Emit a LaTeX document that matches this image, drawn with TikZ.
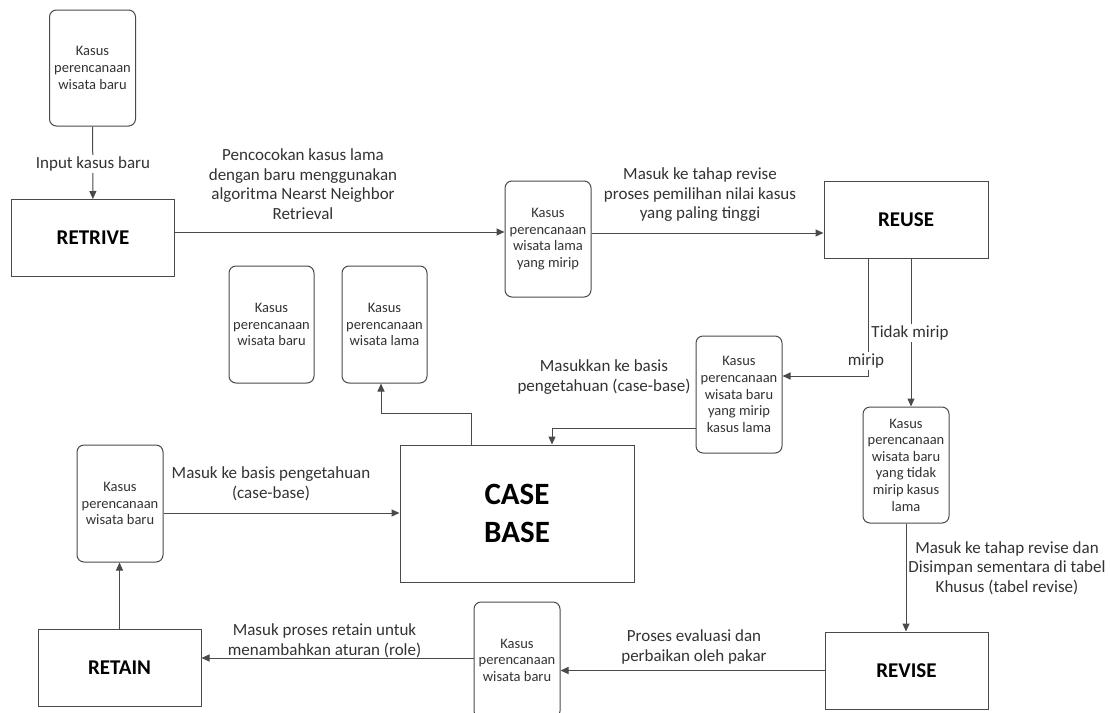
\documentclass[tikz,border=0pt]{standalone}
\usepackage{fontspec}
\setmainfont{Carlito}
\usetikzlibrary{arrows.meta}
\definecolor{ln}{HTML}{4A4A4A}
\definecolor{tx}{HTML}{333333}
\tikzset{
  x=1pt, y=-1pt,
  casebox/.style={draw=ln, line width=1pt, rounded corners=7pt,
    minimum width=86pt, minimum height=116pt, align=center, inner sep=1pt,
    text=tx, font=\fontsize{14.5}{16.6}\selectfont},
  stagebox/.style={draw=ln, line width=1pt, minimum width=163pt,
    minimum height=77pt, text=black, font=\fontsize{21}{24}\selectfont\bfseries},
  flow/.style={draw=ln, line width=1pt, -{Triangle[length=8pt,width=7pt]}},
  note/.style={align=center, text=tx, font=\fontsize{17}{19.5}\selectfont, inner sep=1pt},
  cut/.style={note, fill=white, inner sep=2pt},
}
\begin{document}
\begin{tikzpicture}
\useasboundingbox (0,0) rectangle (1110,712);
\fill[white] (0,0) rectangle (1110,712);
\clip (0,0) rectangle (1110,712);

% stages of the cycle
\node[stagebox] (retrive) at (93,238) {RETRIVE};
\node[stagebox, minimum width=164pt] (reuse) at (906,219.5) {REUSE};
\node[stagebox] (revise) at (906.5,670.5) {REVISE};
\node[stagebox] (retain) at (119.5,668) {RETAIN};
\node[draw=ln, line width=1pt, minimum width=234pt, minimum height=137pt,
  align=center, font=\fontsize{31}{38}\selectfont\bfseries] (cb) at (517,513.5) {CASE\\BASE};

% case records
\node[casebox] (new) at (92.5,68) {Kasus\\perencanaan\\wisata baru};
\node[casebox] (sim) at (548,239) {Kasus\\perencanaan\\wisata lama\\yang mirip};
\node[casebox, minimum width=85pt, minimum height=117pt] (cbnew) at (271.5,324.5) {Kasus\\perencanaan\\wisata baru};
\node[casebox, minimum width=85pt, minimum height=117pt] (cbold) at (384.5,324.5) {Kasus\\perencanaan\\wisata lama};
\node[casebox, minimum height=117pt] (same) at (739,394.5) {Kasus\\perencanaan\\wisata baru\\yang mirip\\kasus lama};
\node[casebox] (diff) at (906,465) {Kasus\\perencanaan\\wisata baru\\yang tidak\\mirip kasus\\lama};
\node[casebox, minimum height=117pt] (kept) at (120,503.5) {Kasus\\perencanaan\\wisata baru};
\node[casebox] (fixed) at (517,660) {Kasus\\perencanaan\\wisata baru};

% flows
\draw[flow] (new) -- (retrive);
\node[cut] (linput) at (93,164) {Input kasus baru};

\draw[flow] ([yshift=6pt]retrive.east) -- ([yshift=6pt]retrive.east -| sim.west);
\node[note] (lmatch) at (303,184) {Pencocokan kasus lama\\dengan baru menggunakan\\algoritma Nearst Neighbor\\Retrieval};

\draw[flow] ([yshift=6pt]sim.east) -- ([yshift=6pt]sim.east -| reuse.west);
\node[note] (lpick) at (700,195) {Masuk ke tahap revise\\proses pemilihan nilai kasus\\yang paling tinggi};

\draw[flow] ([xshift=-38pt]reuse.south) |- ([yshift=18.5pt]same.east);
\node[cut] (lsim) at (866,361) {mirip};

\draw[flow] ([xshift=5pt]reuse.south) -- ([xshift=5pt]diff.north);
\node[cut] (ldiff) at (910,333) {Tidak mirip};

\draw[flow] ([yshift=-33.5pt]same.west) -| ([xshift=35pt]cb.north);
\node[note] (lstore) at (604,377) {Masukkan ke basis\\pengetahuan (case-base)};

\draw[flow] ([xshift=-46pt]cb.north) -- ++(0,-31) -| ([xshift=-3.5pt]cbold.south);

\draw[flow] (diff.south) -- (diff.south |- revise.north);
\node[note] (lrev) at (1007,568) {Masuk ke tahap revise dan\\Disimpan sementara di tabel\\Khusus (tabel revise)};

\draw[flow] (revise.west) -- (revise.west -| fixed.east);
\node[note] (leval) at (694,647) {Proses evaluasi dan\\perbaikan oleh pakar};

\draw[flow] ([yshift=2pt]fixed.west) -- ([yshift=2pt]fixed.west -| retain.east);
\node[note] (lret) at (324.5,641) {Masuk proses retain untuk\\menambahkan aturan (role)};

\draw[flow] (retain.north) -- (retain.north |- kept.south);

\draw[flow] ([yshift=-9.5pt]kept.east) -- ([yshift=-9.5pt]kept.east -| cb.west);
\node[note] (lkb) at (271,484) {Masuk ke basis pengetahuan\\(case-base)};
\end{tikzpicture}
\end{document}
